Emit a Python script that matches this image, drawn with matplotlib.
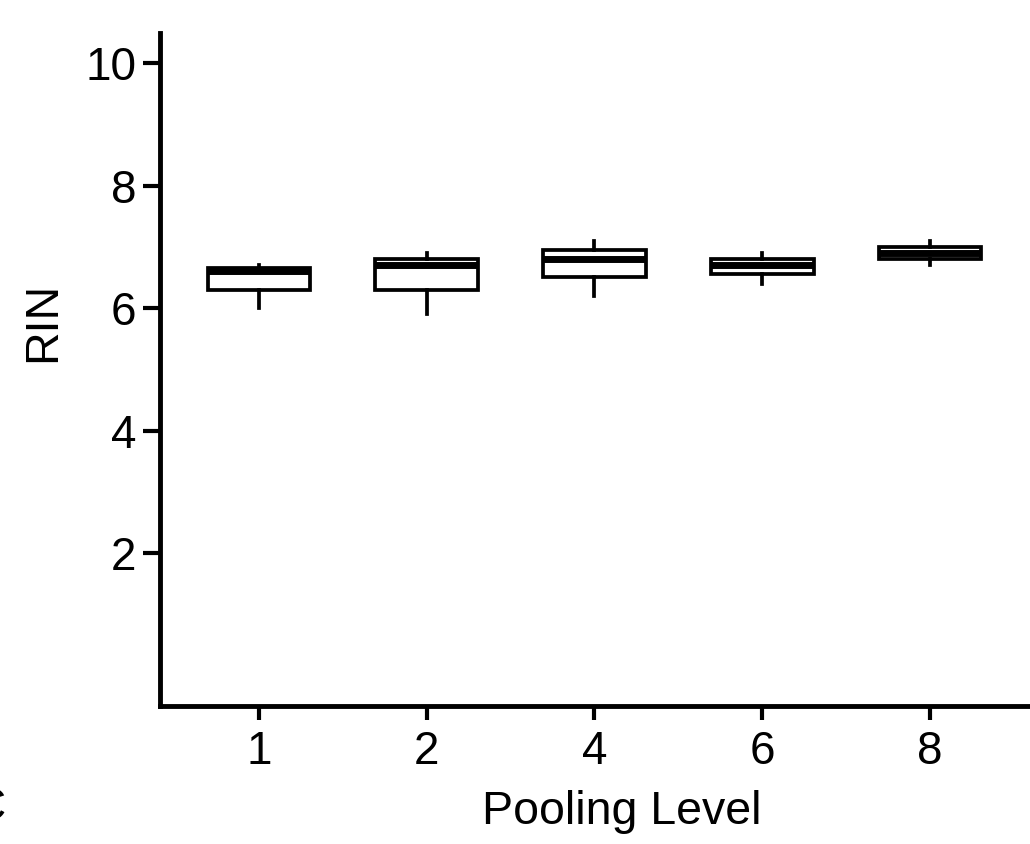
import matplotlib
matplotlib.use("Agg")
import matplotlib.pyplot as plt

plt.rcParams['font.family'] = ['Liberation Sans', 'DejaVu Sans']

categories = ["1", "2", "4", "6", "8"]
whislo = [6.0, 5.9, 6.2, 6.4, 6.7]
q1 = [6.3, 6.3, 6.5, 6.55, 6.8]
med = [6.6, 6.7, 6.8, 6.7, 6.9]
q3 = [6.65, 6.8, 6.95, 6.8, 7.0]
whishi = [6.7, 6.9, 7.1, 6.9, 7.1]
yticks = [2, 4, 6, 8, 10]

stats = []
for c, lo, a, m, b, hi in zip(categories, whislo, q1, med, q3, whishi):
    stats.append(dict(label=c, whislo=lo, q1=a, med=m, q3=b, whishi=hi, fliers=[]))

W, H = 1030, 844
x0, y0, ytop = 160, 706, 33
fig = plt.figure(figsize=(W/100, H/100), dpi=100)
ax = fig.add_axes([x0/W, 1-y0/H, 1-x0/W, (y0-ytop)/H])

ax.bxp(stats, positions=range(len(categories)), widths=0.61, showcaps=False,
       patch_artist=True,
       boxprops=dict(facecolor='white', edgecolor='black', linewidth=2.7),
       medianprops=dict(color='black', linewidth=5, solid_capstyle='butt'),
       whiskerprops=dict(color='black', linewidth=2.7))

ax.set_xlim(-0.589, 4.595)
ax.set_ylim(-0.498, 10.49)
ax.set_yticks(yticks)
ax.set_yticklabels([str(v) for v in yticks])
ax.set_xticks(range(len(categories)))
ax.set_xticklabels(categories)

for s in ['top', 'right']:
    ax.spines[s].set_visible(False)
for s in ['left', 'bottom']:
    ax.spines[s].set_linewidth(3.5)
    ax.spines[s].set_color('black')
    ax.spines[s].set_capstyle('projecting')

ax.tick_params(axis='y', length=12, width=3, pad=5, labelsize=33, colors='black')
ax.tick_params(axis='x', length=10, width=3, pad=7, labelsize=33, colors='black')

ax.set_ylabel("RIN", fontsize=33.5)
ax.yaxis.set_label_coords((65-x0)/(W-x0), (y0-322)/(y0-ytop))
ax.set_xlabel("Pooling Level", fontsize=33.5)
ax.xaxis.set_label_coords((622-x0)/(W-x0), (y0-790)/(y0-ytop))
ax.xaxis.label.set_va('top')

fig.text(0.006, 1-808/H, "C", fontsize=33, ha='right', va='center')

fig.savefig("out.png", dpi=100)
